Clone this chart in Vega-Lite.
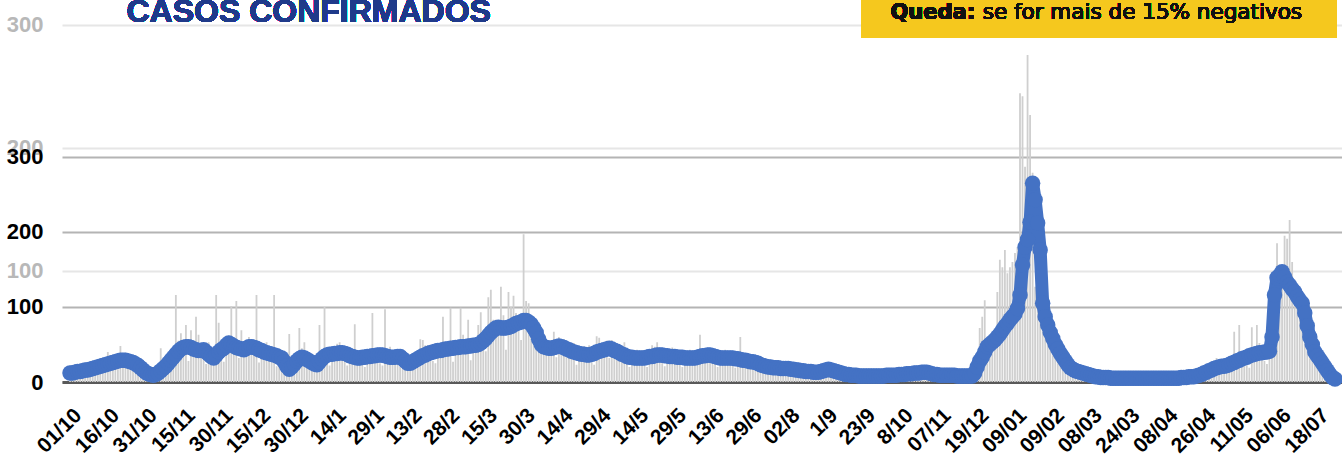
{
  "$schema": "https://vega.github.io/schema/vega-lite/v6.json",
  "autosize": "none",
  "width": 1280,
  "height": 382,
  "padding": {"left": 62, "top": 0, "right": 0, "bottom": 78},
  "background": "white",
  "config": {"view": {"stroke": null}},
  "datasets": {
    "casos": [
{"d":0,"c":14,"m":12},{"d":1,"c":16,"m":12},{"d":2,"c":14,"m":13},{"d":3,"c":13,"m":14},{"d":4,"c":10,"m":14},{"d":5,"c":9,"m":15},{"d":6,"c":18,"m":16},{"d":7,"c":19,"m":16},{"d":8,"c":23,"m":17},{"d":9,"c":20,"m":18},
{"d":10,"c":17,"m":19},{"d":11,"c":14,"m":20},{"d":12,"c":13,"m":21},{"d":13,"c":25,"m":22},{"d":14,"c":28,"m":23},{"d":15,"c":40,"m":24},{"d":16,"c":28,"m":25},{"d":17,"c":23,"m":26},{"d":18,"c":19,"m":27},{"d":19,"c":17,"m":28},
{"d":20,"c":48,"m":29},{"d":21,"c":35,"m":29},{"d":22,"c":39,"m":29},{"d":23,"c":31,"m":28},{"d":24,"c":24,"m":27},{"d":25,"c":18,"m":26},{"d":26,"c":14,"m":24},{"d":27,"c":25,"m":22},{"d":28,"c":23,"m":19},{"d":29,"c":22,"m":16},
{"d":30,"c":14,"m":13},{"d":31,"c":10,"m":11},{"d":32,"c":7,"m":10},{"d":33,"c":5,"m":9},{"d":34,"c":12,"m":10},{"d":35,"c":14,"m":12},{"d":36,"c":45,"m":15},{"d":37,"c":20,"m":18},{"d":38,"c":19,"m":21},{"d":39,"c":18,"m":25},
{"d":40,"c":17,"m":29},{"d":41,"c":38,"m":33},{"d":42,"c":116,"m":37},{"d":43,"c":55,"m":41},{"d":44,"c":65,"m":44},{"d":45,"c":41,"m":46},{"d":46,"c":76,"m":47},{"d":47,"c":28,"m":47},{"d":48,"c":69,"m":46},{"d":49,"c":53,"m":44},
{"d":50,"c":87,"m":43},{"d":51,"c":63,"m":42},{"d":52,"c":38,"m":42},{"d":53,"c":30,"m":43},{"d":54,"c":24,"m":40},{"d":55,"c":53,"m":37},{"d":56,"c":41,"m":34},{"d":57,"c":43,"m":32},{"d":58,"c":116,"m":36},{"d":59,"c":79,"m":40},
{"d":60,"c":30,"m":43},{"d":61,"c":27,"m":45},{"d":62,"c":56,"m":49},{"d":63,"c":62,"m":52},{"d":64,"c":101,"m":50},{"d":65,"c":53,"m":48},{"d":66,"c":108,"m":46},{"d":67,"c":32,"m":45},{"d":68,"c":69,"m":44},{"d":69,"c":49,"m":43},
{"d":70,"c":54,"m":45},{"d":71,"c":60,"m":47},{"d":72,"c":52,"m":47},{"d":73,"c":41,"m":46},{"d":74,"c":116,"m":45},{"d":75,"c":26,"m":43},{"d":76,"c":48,"m":42},{"d":77,"c":48,"m":40},{"d":78,"c":53,"m":39},{"d":79,"c":42,"m":38},
{"d":80,"c":33,"m":37},{"d":81,"c":116,"m":36},{"d":82,"c":21,"m":35},{"d":83,"c":38,"m":33},{"d":84,"c":38,"m":32},{"d":85,"c":36,"m":27},{"d":86,"c":23,"m":21},{"d":87,"c":64,"m":17},{"d":88,"c":14,"m":20},{"d":89,"c":14,"m":24},
{"d":90,"c":32,"m":28},{"d":91,"c":72,"m":31},{"d":92,"c":45,"m":33},{"d":93,"c":53,"m":32},{"d":94,"c":27,"m":30},{"d":95,"c":20,"m":28},{"d":96,"c":16,"m":26},{"d":97,"c":28,"m":24},{"d":98,"c":28,"m":23},{"d":99,"c":76,"m":27},
{"d":100,"c":34,"m":31},{"d":101,"c":100,"m":34},{"d":102,"c":25,"m":36},{"d":103,"c":22,"m":37},{"d":104,"c":43,"m":37},{"d":105,"c":46,"m":38},{"d":106,"c":51,"m":38},{"d":107,"c":53,"m":39},{"d":108,"c":35,"m":39},{"d":109,"c":27,"m":38},
{"d":110,"c":22,"m":37},{"d":111,"c":40,"m":35},{"d":112,"c":41,"m":34},{"d":113,"c":77,"m":33},{"d":114,"c":35,"m":32},{"d":115,"c":29,"m":32},{"d":116,"c":23,"m":33},{"d":117,"c":20,"m":33},{"d":118,"c":39,"m":34},{"d":119,"c":41,"m":34},
{"d":120,"c":92,"m":35},{"d":121,"c":39,"m":35},{"d":122,"c":32,"m":36},{"d":123,"c":25,"m":36},{"d":124,"c":22,"m":36},{"d":125,"c":97,"m":35},{"d":126,"c":41,"m":34},{"d":127,"c":47,"m":33},{"d":128,"c":36,"m":33},{"d":129,"c":30,"m":33},
{"d":130,"c":24,"m":34},{"d":131,"c":20,"m":34},{"d":132,"c":36,"m":31},{"d":133,"c":34,"m":28},{"d":134,"c":34,"m":25},{"d":135,"c":28,"m":25},{"d":136,"c":24,"m":27},{"d":137,"c":20,"m":29},{"d":138,"c":19,"m":31},{"d":139,"c":57,"m":33},
{"d":140,"c":56,"m":35},{"d":141,"c":49,"m":36},{"d":142,"c":49,"m":38},{"d":143,"c":35,"m":39},{"d":144,"c":28,"m":40},{"d":145,"c":25,"m":41},{"d":146,"c":48,"m":42},{"d":147,"c":50,"m":42},{"d":148,"c":87,"m":43},{"d":149,"c":48,"m":44},
{"d":150,"c":40,"m":44},{"d":151,"c":99,"m":45},{"d":152,"c":27,"m":45},{"d":153,"c":53,"m":46},{"d":154,"c":55,"m":46},{"d":155,"c":99,"m":47},{"d":156,"c":63,"m":47},{"d":157,"c":42,"m":47},{"d":158,"c":83,"m":48},{"d":159,"c":29,"m":48},
{"d":160,"c":56,"m":49},{"d":161,"c":59,"m":49},{"d":162,"c":76,"m":50},{"d":163,"c":93,"m":52},{"d":164,"c":50,"m":55},{"d":165,"c":41,"m":58},{"d":166,"c":113,"m":62},{"d":167,"c":123,"m":66},{"d":168,"c":83,"m":69},{"d":169,"c":83,"m":72},
{"d":170,"c":80,"m":73},{"d":171,"c":127,"m":72},{"d":172,"c":89,"m":72},{"d":173,"c":43,"m":72},{"d":174,"c":120,"m":73},{"d":175,"c":100,"m":74},{"d":176,"c":115,"m":76},{"d":177,"c":92,"m":78},{"d":178,"c":71,"m":79},{"d":179,"c":56,"m":80},
{"d":180,"c":197,"m":82},{"d":181,"c":108,"m":82},{"d":182,"c":105,"m":80},{"d":183,"c":70,"m":77},{"d":184,"c":60,"m":72},{"d":185,"c":55,"m":66},{"d":186,"c":45,"m":57},{"d":187,"c":40,"m":50},{"d":188,"c":54,"m":47},{"d":189,"c":55,"m":46},
{"d":190,"c":52,"m":45},{"d":191,"c":50,"m":45},{"d":192,"c":67,"m":46},{"d":193,"c":33,"m":47},{"d":194,"c":60,"m":48},{"d":195,"c":54,"m":47},{"d":196,"c":57,"m":46},{"d":197,"c":52,"m":44},{"d":198,"c":47,"m":43},{"d":199,"c":37,"m":41},
{"d":200,"c":52,"m":40},{"d":201,"c":23,"m":39},{"d":202,"c":44,"m":38},{"d":203,"c":44,"m":37},{"d":204,"c":48,"m":37},{"d":205,"c":40,"m":36},{"d":206,"c":49,"m":36},{"d":207,"c":26,"m":37},{"d":208,"c":23,"m":38},{"d":209,"c":61,"m":40},
{"d":210,"c":59,"m":41},{"d":211,"c":52,"m":42},{"d":212,"c":47,"m":43},{"d":213,"c":55,"m":44},{"d":214,"c":32,"m":45},{"d":215,"c":56,"m":44},{"d":216,"c":48,"m":42},{"d":217,"c":49,"m":41},{"d":218,"c":50,"m":39},{"d":219,"c":41,"m":37},
{"d":220,"c":53,"m":36},{"d":221,"c":24,"m":34},{"d":222,"c":20,"m":33},{"d":223,"c":38,"m":33},{"d":224,"c":38,"m":32},{"d":225,"c":43,"m":32},{"d":226,"c":35,"m":32},{"d":227,"c":29,"m":32},{"d":228,"c":22,"m":32},{"d":229,"c":20,"m":33},
{"d":230,"c":39,"m":34},{"d":231,"c":49,"m":34},{"d":232,"c":47,"m":35},{"d":233,"c":53,"m":36},{"d":234,"c":32,"m":36},{"d":235,"c":25,"m":36},{"d":236,"c":21,"m":35},{"d":237,"c":40,"m":35},{"d":238,"c":41,"m":34},{"d":239,"c":46,"m":34},
{"d":240,"c":37,"m":34},{"d":241,"c":30,"m":33},{"d":242,"c":23,"m":33},{"d":243,"c":20,"m":33},{"d":244,"c":37,"m":32},{"d":245,"c":38,"m":32},{"d":246,"c":43,"m":32},{"d":247,"c":35,"m":32},{"d":248,"c":29,"m":32},{"d":249,"c":23,"m":33},
{"d":250,"c":63,"m":34},{"d":251,"c":40,"m":35},{"d":252,"c":42,"m":35},{"d":253,"c":45,"m":36},{"d":254,"c":40,"m":36},{"d":255,"c":32,"m":35},{"d":256,"c":24,"m":34},{"d":257,"c":20,"m":33},{"d":258,"c":37,"m":32},{"d":259,"c":38,"m":32},
{"d":260,"c":43,"m":32},{"d":261,"c":35,"m":32},{"d":262,"c":29,"m":32},{"d":263,"c":22,"m":32},{"d":264,"c":19,"m":31},{"d":265,"c":36,"m":31},{"d":266,"c":60,"m":30},{"d":267,"c":39,"m":29},{"d":268,"c":32,"m":29},{"d":269,"c":25,"m":28},
{"d":270,"c":19,"m":27},{"d":271,"c":16,"m":27},{"d":272,"c":30,"m":26},{"d":273,"c":30,"m":25},{"d":274,"c":31,"m":23},{"d":275,"c":24,"m":22},{"d":276,"c":19,"m":21},{"d":277,"c":14,"m":20},{"d":278,"c":12,"m":20},{"d":279,"c":22,"m":19},
{"d":280,"c":23,"m":19},{"d":281,"c":26,"m":19},{"d":282,"c":20,"m":18},{"d":283,"c":16,"m":18},{"d":284,"c":13,"m":18},{"d":285,"c":11,"m":18},{"d":286,"c":20,"m":17},{"d":287,"c":20,"m":17},{"d":288,"c":22,"m":16},{"d":289,"c":18,"m":16},
{"d":290,"c":14,"m":15},{"d":291,"c":11,"m":15},{"d":292,"c":8,"m":14},{"d":293,"c":16,"m":14},{"d":294,"c":17,"m":14},{"d":295,"c":18,"m":13},{"d":296,"c":14,"m":13},{"d":297,"c":12,"m":13},{"d":298,"c":10,"m":14},{"d":299,"c":9,"m":15},
{"d":300,"c":25,"m":16},{"d":301,"c":20,"m":17},{"d":302,"c":22,"m":16},{"d":303,"c":17,"m":15},{"d":304,"c":13,"m":14},{"d":305,"c":9,"m":13},{"d":306,"c":7,"m":12},{"d":307,"c":13,"m":11},{"d":308,"c":12,"m":10},{"d":309,"c":14,"m":10},
{"d":310,"c":10,"m":9},{"d":311,"c":8,"m":9},{"d":312,"c":6,"m":9},{"d":313,"c":5,"m":8},{"d":314,"c":9,"m":8},{"d":315,"c":10,"m":8},{"d":316,"c":11,"m":8},{"d":317,"c":9,"m":8},{"d":318,"c":7,"m":8},{"d":319,"c":6,"m":8},
{"d":320,"c":5,"m":8},{"d":321,"c":9,"m":8},{"d":322,"c":10,"m":8},{"d":323,"c":11,"m":8},{"d":324,"c":10,"m":9},{"d":325,"c":8,"m":9},{"d":326,"c":6,"m":9},{"d":327,"c":5,"m":9},{"d":328,"c":10,"m":9},{"d":329,"c":12,"m":10},
{"d":330,"c":14,"m":10},{"d":331,"c":11,"m":10},{"d":332,"c":10,"m":11},{"d":333,"c":8,"m":11},{"d":334,"c":7,"m":11},{"d":335,"c":14,"m":12},{"d":336,"c":14,"m":12},{"d":337,"c":16,"m":12},{"d":338,"c":14,"m":13},{"d":339,"c":12,"m":13},
{"d":340,"c":9,"m":13},{"d":341,"c":7,"m":12},{"d":342,"c":13,"m":11},{"d":343,"c":12,"m":10},{"d":344,"c":14,"m":10},{"d":345,"c":10,"m":9},{"d":346,"c":8,"m":9},{"d":347,"c":6,"m":9},{"d":348,"c":5,"m":9},{"d":349,"c":10,"m":9},
{"d":350,"c":11,"m":9},{"d":351,"c":12,"m":9},{"d":352,"c":9,"m":8},{"d":353,"c":7,"m":8},{"d":354,"c":6,"m":8},{"d":355,"c":5,"m":8},{"d":356,"c":9,"m":8},{"d":357,"c":10,"m":8},{"d":358,"c":11,"m":8},{"d":359,"c":20,"m":12},
{"d":360,"c":35,"m":20},{"d":361,"c":72,"m":28},{"d":362,"c":87,"m":33},{"d":363,"c":109,"m":40},{"d":364,"c":50,"m":47},{"d":365,"c":55,"m":50},{"d":366,"c":60,"m":53},{"d":367,"c":65,"m":56},{"d":368,"c":120,"m":60},{"d":369,"c":163,"m":64},
{"d":370,"c":153,"m":69},{"d":371,"c":176,"m":74},{"d":372,"c":145,"m":78},{"d":373,"c":153,"m":83},{"d":374,"c":160,"m":87},{"d":375,"c":172,"m":91},{"d":376,"c":180,"m":98},{"d":377,"c":385,"m":116},{"d":378,"c":381,"m":156},{"d":379,"c":287,"m":180},
{"d":380,"c":436,"m":190},{"d":381,"c":356,"m":213},{"d":382,"c":279,"m":265},{"d":383,"c":127,"m":243},{"d":384,"c":105,"m":212},{"d":385,"c":95,"m":176},{"d":386,"c":85,"m":105},{"d":387,"c":80,"m":87},{"d":388,"c":70,"m":76},{"d":389,"c":62,"m":66},
{"d":390,"c":55,"m":58},{"d":391,"c":48,"m":50},{"d":392,"c":42,"m":44},{"d":393,"c":35,"m":38},{"d":394,"c":30,"m":33},{"d":395,"c":25,"m":28},{"d":396,"c":20,"m":23},{"d":397,"c":18,"m":19},{"d":398,"c":15,"m":17},{"d":399,"c":13,"m":15},
{"d":400,"c":12,"m":14},{"d":401,"c":11,"m":13},{"d":402,"c":10,"m":12},{"d":403,"c":9,"m":11},{"d":404,"c":8,"m":10},{"d":405,"c":7,"m":9},{"d":406,"c":7,"m":8},{"d":407,"c":6,"m":7},{"d":408,"c":8,"m":7},{"d":409,"c":7,"m":6},
{"d":410,"c":5,"m":6},{"d":411,"c":4,"m":6},{"d":412,"c":3,"m":6},{"d":413,"c":6,"m":5},{"d":414,"c":6,"m":5},{"d":415,"c":7,"m":5},{"d":416,"c":6,"m":5},{"d":417,"c":5,"m":5},{"d":418,"c":3,"m":5},{"d":419,"c":3,"m":5},
{"d":420,"c":6,"m":5},{"d":421,"c":6,"m":5},{"d":422,"c":7,"m":5},{"d":423,"c":6,"m":5},{"d":424,"c":5,"m":5},{"d":425,"c":3,"m":5},{"d":426,"c":3,"m":5},{"d":427,"c":6,"m":5},{"d":428,"c":6,"m":5},{"d":429,"c":7,"m":5},
{"d":430,"c":6,"m":5},{"d":431,"c":5,"m":5},{"d":432,"c":3,"m":5},{"d":433,"c":3,"m":5},{"d":434,"c":6,"m":5},{"d":435,"c":7,"m":5},{"d":436,"c":7,"m":5},{"d":437,"c":6,"m":5},{"d":438,"c":5,"m":5},{"d":439,"c":3,"m":5},
{"d":440,"c":3,"m":5},{"d":441,"c":7,"m":6},{"d":442,"c":8,"m":6},{"d":443,"c":8,"m":6},{"d":444,"c":8,"m":7},{"d":445,"c":6,"m":7},{"d":446,"c":4,"m":7},{"d":447,"c":5,"m":8},{"d":448,"c":10,"m":9},{"d":449,"c":12,"m":10},
{"d":450,"c":16,"m":12},{"d":451,"c":14,"m":13},{"d":452,"c":13,"m":15},{"d":453,"c":10,"m":16},{"d":454,"c":11,"m":18},{"d":455,"c":32,"m":19},{"d":456,"c":24,"m":20},{"d":457,"c":28,"m":21},{"d":458,"c":23,"m":21},{"d":459,"c":19,"m":22},
{"d":460,"c":15,"m":23},{"d":461,"c":14,"m":25},{"d":462,"c":67,"m":26},{"d":463,"c":34,"m":28},{"d":464,"c":76,"m":29},{"d":465,"c":34,"m":31},{"d":466,"c":28,"m":32},{"d":467,"c":22,"m":33},{"d":468,"c":19,"m":35},{"d":469,"c":73,"m":36},
{"d":470,"c":45,"m":37},{"d":471,"c":76,"m":38},{"d":472,"c":52,"m":39},{"d":473,"c":35,"m":39},{"d":474,"c":28,"m":40},{"d":475,"c":24,"m":40},{"d":476,"c":47,"m":41},{"d":477,"c":50,"m":60},{"d":478,"c":100,"m":116},{"d":479,"c":185,"m":139},
{"d":480,"c":150,"m":142},{"d":481,"c":140,"m":147},{"d":482,"c":195,"m":140},{"d":483,"c":191,"m":133},{"d":484,"c":216,"m":129},{"d":485,"c":160,"m":124},{"d":486,"c":115,"m":120},{"d":487,"c":110,"m":114},{"d":488,"c":105,"m":109},{"d":489,"c":100,"m":105},
{"d":490,"c":90,"m":92},{"d":491,"c":80,"m":75},{"d":492,"c":60,"m":60},{"d":493,"c":50,"m":50},{"d":494,"c":40,"m":40},{"d":495,"c":32,"m":35},{"d":496,"c":26,"m":30},{"d":497,"c":22,"m":25},{"d":498,"c":16,"m":20},{"d":499,"c":12,"m":15},
{"d":500,"c":8,"m":10},{"d":501,"c":5,"m":6},{"d":502,"c":3,"m":4}
    ]
  },
  "resolve": {"scale": {"y": "independent"}, "axis": {"y": "independent"}},
  "layer": [
    {
      "mark": {"type": "rule", "opacity": 0},
      "encoding": {
        "y": {"datum": 100, "type": "quantitative",
          "scale": {"domain": [9.75, 320.3], "nice": false, "zero": false},
          "axis": {"orient": "left", "values": [100, 200, 300], "title": null, "domain": false, "ticks": false, "grid": true, "gridColor": "#e6e6e6", "gridWidth": 2, "labelColor": "#b8b8b8", "labelFont": "Liberation Sans", "labelFontSize": 22, "labelFontWeight": "bold", "labelPadding": 19, "labelBaseline": "middle"}}
      }
    },
    {
      "data": {"name": "casos"},
      "encoding": {
        "x": {"field": "d", "type": "quantitative",
          "scale": {"domain": [-1.2, 502.8], "nice": false, "zero": false},
          "axis": {"title": null, "grid": false, "ticks": false, "domain": true, "domainColor": "#595959", "domainWidth": 3,
            "values": [0,15,30,45,60,75,90,105,120,135,150,165,180,195,210,225,240,255,270,285,300,315,330,345,360,375,390,405,420,435,450,465,480,495],
            "labelExpr": "['01/10','16/10','31/10','15/11','30/11','15/12','30/12','14/1','29/1','13/2','28/2','15/3','30/3','14/4','29/4','14/5','29/5','13/6','29/6','02/8','1/9','23/9','8/10','07/11','19/12','09/01','09/02','08/03','24/03','08/04','26/04','11/05','06/06','18/07'][round(datum.value/15)]",
            "labelAngle": -45, "labelAlign": "right", "labelBaseline": "middle", "labelPadding": 30, "labelOffset": 8,
            "labelFont": "Liberation Sans", "labelFontSize": 21, "labelFontWeight": "bold", "labelColor": "#000000",
            "labelOverlap": false, "labelFlush": false, "labelBound": false}}
      },
      "layer": [
        {
          "mark": {"type": "bar", "color": "#cfcfcf", "size": 1.8},
          "encoding": {
            "y": {"field": "c", "type": "quantitative",
              "scale": {"domain": [0, 509.3], "nice": false, "zero": true},
              "axis": {"orient": "left", "values": [0, 100, 200, 300], "title": null, "domain": false, "ticks": false, "grid": true, "gridColor": "#b4b4b4", "gridWidth": 2, "labelColor": "#000000", "labelFont": "Liberation Sans", "labelFontSize": 22, "labelFontWeight": "bold", "labelPadding": 19, "labelBaseline": "middle"}}
          }
        },
        {
          "mark": {"type": "line", "color": "#4472c4", "strokeWidth": 13, "strokeJoin": "round", "strokeCap": "round",
            "point": {"filled": true, "size": 240, "color": "#4472c4", "opacity": 1}},
          "encoding": {"y": {"field": "m", "type": "quantitative"}}
        },
        {
          "mark": {"type": "rect", "color": "#f5c81e"},
          "encoding": {
            "x": {"datum": 314.2}, "x2": {"datum": 502.8},
            "y": {"datum": 458.7}, "y2": {"datum": 509.3}
          }
        },
        {
          "mark": {"type": "text", "text": "Queda:", "align": "left", "baseline": "alphabetic", "font": "DejaVu Sans", "fontSize": 21, "fontWeight": "bold", "color": "#111111"},
          "encoding": {"x": {"datum": 325.6}, "y": {"datum": 483.5}}
        },
        {
          "mark": {"type": "text", "text": "se for mais de 15% negativos", "align": "left", "baseline": "alphabetic", "font": "DejaVu Sans", "fontSize": 21.5, "color": "#111111"},
          "encoding": {"x": {"datum": 362.2}, "y": {"datum": 483.5}}
        },
        {
          "mark": {"type": "text", "text": "CASOS CONFIRMADOS", "align": "left", "baseline": "alphabetic", "font": "Liberation Sans", "fontSize": 32, "fontWeight": "bold", "color": "#1f3a8a"},
          "encoding": {"x": {"datum": 22.4}, "y": {"datum": 480}}
        }
      ]
    }
  ]
}
